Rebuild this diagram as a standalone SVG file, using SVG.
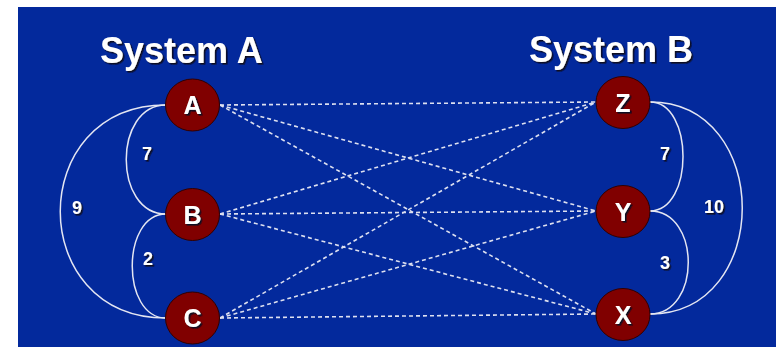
<svg xmlns="http://www.w3.org/2000/svg" width="776" height="347" viewBox="0 0 776 347">
<defs>
<filter id="sh" x="-20%" y="-20%" width="140%" height="140%">
<feDropShadow dx="1.6" dy="1.6" stdDeviation="0.4" flood-color="#0a0a20" flood-opacity="1"/>
</filter>
<style>
.bg{fill:#03299c}
.title{font-family:"Liberation Sans",Arial,sans-serif;font-weight:bold;font-size:36px;fill:#fff;filter:url(#sh)}
.node ellipse{fill:#800000;stroke:#300000;stroke-width:1}
.lbl{font-family:"Liberation Sans",Arial,sans-serif;font-weight:bold;font-size:25px;fill:#fff;text-anchor:middle;filter:url(#sh)}
.w{font-family:"Liberation Sans",Arial,sans-serif;font-weight:bold;font-size:18px;fill:#fff;text-anchor:middle;filter:url(#sh)}
.dash{stroke:#dde0f0;stroke-width:1.6;stroke-dasharray:4 3;fill:none}
.arc{stroke:#e4e6f2;stroke-width:1.5;fill:none}
</style>
</defs>
<rect class="bg" x="18" y="7" width="758" height="340"/>
<g id="titles">
<text class="title" x="100" y="63">System A</text>
<text class="title" x="529" y="62">System B</text>
</g>
<g id="connectors">
<line class="dash" x1="220" y1="105" x2="596" y2="102"/>
<line class="dash" x1="220" y1="105" x2="596" y2="211"/>
<line class="dash" x1="220" y1="105" x2="596" y2="314"/>
<line class="dash" x1="220" y1="214" x2="596" y2="102"/>
<line class="dash" x1="220" y1="214" x2="596" y2="211"/>
<line class="dash" x1="220" y1="214" x2="596" y2="314"/>
<line class="dash" x1="220" y1="318" x2="596" y2="102"/>
<line class="dash" x1="220" y1="318" x2="596" y2="211"/>
<line class="dash" x1="220" y1="318" x2="596" y2="314"/>
<path class="arc" d="M166,105 C113,105 113,214 166,214"/>
<path class="arc" d="M166,105 C25,105 25,318 166,318"/>
<path class="arc" d="M166,214 C121,214 121,318 166,318"/>
<path class="arc" d="M650,102 C694,102 694,211 650,211"/>
<path class="arc" d="M650,102 C773,102 773,314 650,314"/>
<path class="arc" d="M650,211 C701,211 701,314 650,314"/>
</g>
<g id="weights">
<text class="w" x="147" y="160">7</text>
<text class="w" x="77" y="214">9</text>
<text class="w" x="148" y="265">2</text>
<text class="w" x="665" y="160">7</text>
<text class="w" x="714" y="213">10</text>
<text class="w" x="665" y="269">3</text>
</g>
<g id="node-A" class="node"><ellipse cx="192.5" cy="105" rx="27" ry="26"/><text class="lbl" x="192.5" y="114">A</text></g>
<g id="node-B" class="node"><ellipse cx="192.5" cy="214.5" rx="27" ry="26"/><text class="lbl" x="192.5" y="223.5">B</text></g>
<g id="node-C" class="node"><ellipse cx="192.5" cy="318" rx="27" ry="26"/><text class="lbl" x="192.5" y="327">C</text></g>
<g id="node-Z" class="node"><ellipse cx="623" cy="102.5" rx="27" ry="26"/><text class="lbl" x="623" y="111.5">Z</text></g>
<g id="node-Y" class="node"><ellipse cx="623" cy="211.5" rx="27" ry="26"/><text class="lbl" x="623" y="220.5">Y</text></g>
<g id="node-X" class="node"><ellipse cx="623" cy="314.5" rx="27" ry="26"/><text class="lbl" x="623" y="323.5">X</text></g>
</svg>
